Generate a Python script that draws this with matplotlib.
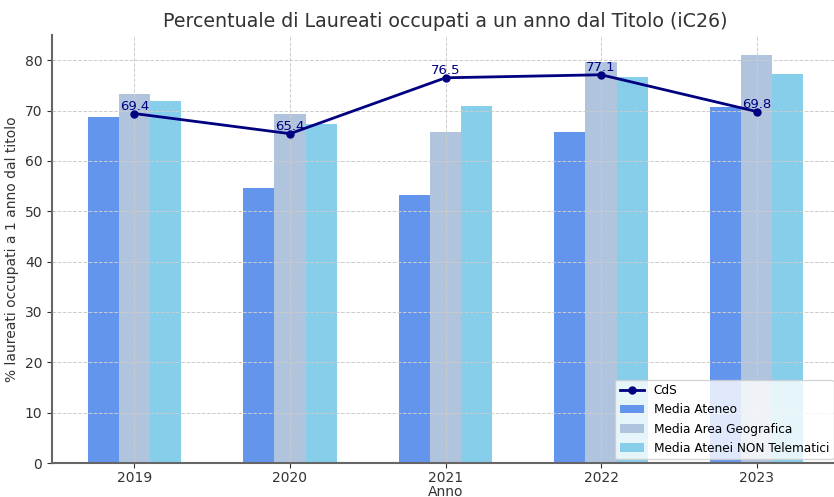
import numpy as np
import matplotlib
matplotlib.use("Agg")
import matplotlib.pyplot as plt

# data
anni = ["2019", "2020", "2021", "2022", "2023"]
cds = [69.4, 65.4, 76.5, 77.1, 69.8]
media_ateneo = [68.8, 54.6, 53.2, 65.7, 70.6]
media_area_geo = [73.2, 69.4, 65.7, 79.6, 81.0]
media_non_telematici = [71.8, 67.3, 70.8, 76.6, 77.2]

x = np.arange(len(anni))
w = 0.2
txt = "#333333"

fig = plt.figure(figsize=(8.34, 4.97), dpi=100)
ax = fig.add_axes([0.0624, 0.0684, 0.9436, 0.8612])

ax.bar(x - w, media_ateneo, w, color="cornflowerblue", label="Media Ateneo")
ax.bar(x, media_area_geo, w, color="lightsteelblue", label="Media Area Geografica")
ax.bar(x + w, media_non_telematici, w, color="skyblue", label="Media Atenei NON Telematici")
ax.plot(x, cds, color="navy", marker="o", markersize=5, linewidth=2, label="CdS", zorder=3)

for xi, v in zip(x, cds):
    ax.text(xi, v + 0.1, f"{v}", ha="center", va="bottom", color="navy", fontsize=9.5)

ax.set_xticks(x)
ax.set_xticklabels(anni)
ax.set_ylim(0, 85)
ax.set_title("Percentuale di Laureati occupati a un anno dal Titolo (iC26)",
             fontsize=13.7, color=txt, pad=6)
ax.set_xlabel("Anno", fontsize=10, color=txt, labelpad=0)
ax.set_ylabel("% laureati occupati a 1 anno dal titolo", fontsize=10, color=txt)
ax.tick_params(colors=txt, labelsize=10)
ax.tick_params(axis="x", pad=2)
ax.grid(True, linestyle="--", color="#cccccc", linewidth=0.7)

for s in ["top", "right"]:
    ax.spines[s].set_visible(False)
for s in ["left", "bottom"]:
    ax.spines[s].set_color("#666666")
    ax.spines[s].set_linewidth(1.5)

ax.legend(loc="lower right", fontsize=8.7, bbox_to_anchor=(0.998, 0.0), borderaxespad=0.3)

fig.savefig("out.png", dpi=100)
